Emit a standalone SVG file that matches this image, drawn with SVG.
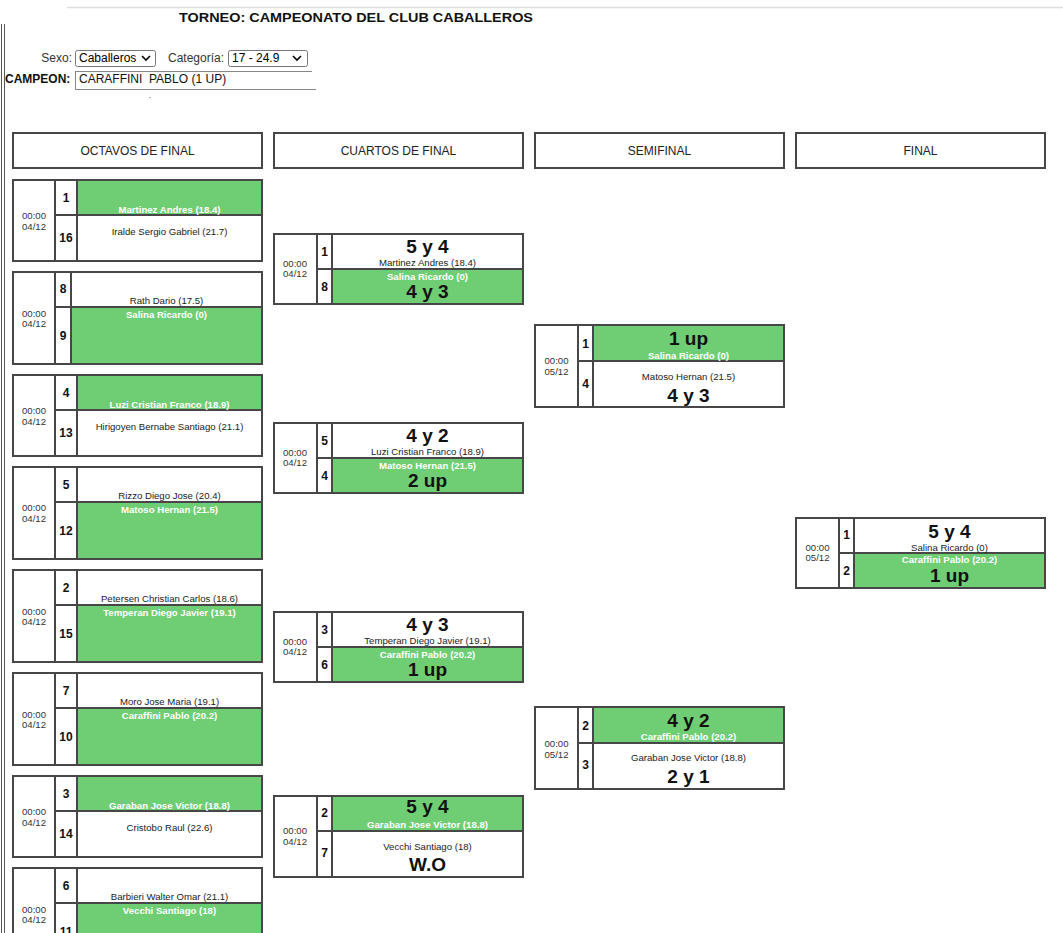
<svg xmlns="http://www.w3.org/2000/svg" width="1063" height="933" viewBox="0 0 1063 933">
<style>
text{font-family:"Liberation Sans",Arial,sans-serif}
.bx{fill:none;stroke:#474747;stroke-width:2}
.ln{stroke:#474747;stroke-width:2}
.win{fill:#6fcd73}
.tm{font-size:9.6px;fill:#333;text-anchor:middle}
.sd{font-size:12px;font-weight:bold;fill:#111;text-anchor:middle}
.nm{font-size:9.6px;fill:#222;text-anchor:middle}
.nw{font-size:9.6px;font-weight:bold;fill:#fff;text-anchor:middle}
.sc{font-size:19px;font-weight:bold;fill:#111;text-anchor:middle}
.hd{font-size:12px;fill:#222;text-anchor:middle}
.lb{font-size:12px;fill:#333}
.sel{fill:#fff;stroke:#767676;stroke-width:1}
</style>
<rect x="0" y="0" width="1063" height="933" fill="#fff"/>
<g id="page-top">
<line x1="67" y1="7.5" x2="1063" y2="7.5" stroke="#ddd" stroke-width="1.5"/>
<line x1="1.5" y1="24" x2="1.5" y2="933" stroke="#555" stroke-width="1"/>
<line x1="4.5" y1="24" x2="4.5" y2="933" stroke="#555" stroke-width="1"/>
<text x="356" y="22" font-size="13.5" font-weight="bold" fill="#111" text-anchor="middle" textLength="354" lengthAdjust="spacingAndGlyphs">TORNEO: CAMPEONATO DEL CLUB CABALLEROS</text>
</g>
<g id="filters">
<text class="lb" x="72" y="62" text-anchor="end">Sexo:</text>
<rect class="sel" x="75.5" y="50.5" width="80" height="16" rx="2"/>
<text x="79" y="62" font-size="12" fill="#000">Caballeros</text>
<path d="M142 56 L146 60 L150 56" fill="none" stroke="#000" stroke-width="1.6"/>
<text class="lb" x="168" y="62">Categoría:</text>
<rect class="sel" x="228.5" y="50.5" width="79" height="16" rx="2"/>
<text x="232" y="62" font-size="12" fill="#000">17 - 24.9</text>
<path d="M293 56 L297 60 L301 56" fill="none" stroke="#000" stroke-width="1.6"/>
</g>
<g id="campeon">
<text x="5" y="83" font-size="12" font-weight="bold" fill="#111">CAMPEON:</text>
<line x1="75" y1="71.5" x2="312" y2="71.5" stroke="#888" stroke-width="1"/>
<line x1="75.5" y1="71" x2="75.5" y2="89" stroke="#888" stroke-width="1"/>
<line x1="75" y1="89.5" x2="316" y2="89.5" stroke="#888" stroke-width="1"/>
<text x="79" y="83" font-size="12" fill="#111" xml:space="preserve">CARAFFINI  PABLO (1 UP)</text>
<rect x="149.5" y="97" width="1" height="1" fill="#666"/>
</g>
<g id="headers">
<rect class="bx" x="13" y="133" width="249" height="35"/>
<text class="hd" x="137.5" y="155">OCTAVOS DE FINAL</text>
<rect class="bx" x="274" y="133" width="249" height="35"/>
<text class="hd" x="398.5" y="155">CUARTOS DE FINAL</text>
<rect class="bx" x="535" y="133" width="249" height="35"/>
<text class="hd" x="659.5" y="155">SEMIFINAL</text>
<rect class="bx" x="796" y="133" width="249" height="35"/>
<text class="hd" x="920.5" y="155">FINAL</text>
</g>
<g id="connectors"/>
<!-- OCTAVOS -->
<g id="o1">
<rect class="win" x="77" y="180" width="185" height="35"/>
<rect class="bx" x="13" y="180" width="249" height="81"/>
<line class="ln" x1="55" y1="180" x2="55" y2="261"/><line class="ln" x1="77" y1="180" x2="77" y2="261"/><line class="ln" x1="55" y1="215" x2="262" y2="215"/>
<text class="tm" x="34" y="219">00:00</text><text class="tm" x="34" y="230">04/12</text>
<text class="sd" x="66" y="202">1</text><text class="sd" x="66" y="242">16</text>
<text class="nw" x="169.5" y="213">Martinez Andres (18.4)</text>
<text class="nm" x="169.5" y="235">Iralde Sergio Gabriel (21.7)</text>
</g>
<g id="o2">
<rect class="win" x="71" y="307" width="191" height="57"/>
<rect class="bx" x="13" y="272" width="249" height="92"/>
<line class="ln" x1="55" y1="272" x2="55" y2="364"/><line class="ln" x1="71" y1="272" x2="71" y2="364"/><line class="ln" x1="55" y1="307" x2="262" y2="307"/>
<text class="tm" x="34" y="317">00:00</text><text class="tm" x="34" y="327">04/12</text>
<text class="sd" x="63" y="293">8</text><text class="sd" x="63" y="340">9</text>
<text class="nm" x="166.5" y="304">Rath Dario (17.5)</text>
<text class="nw" x="166.5" y="318">Salina Ricardo (0)</text>
</g>
<g id="o3">
<rect class="win" x="77" y="375" width="185" height="35"/>
<rect class="bx" x="13" y="375" width="249" height="81"/>
<line class="ln" x1="55" y1="375" x2="55" y2="456"/><line class="ln" x1="77" y1="375" x2="77" y2="456"/><line class="ln" x1="55" y1="410" x2="262" y2="410"/>
<text class="tm" x="34" y="414">00:00</text><text class="tm" x="34" y="425">04/12</text>
<text class="sd" x="66" y="397">4</text><text class="sd" x="66" y="437">13</text>
<text class="nw" x="169.5" y="408">Luzi Cristian Franco (18.9)</text>
<text class="nm" x="169.5" y="430">Hirigoyen Bernabe Santiago (21.1)</text>
</g>
<g id="o4">
<rect class="win" x="77" y="502" width="185" height="57"/>
<rect class="bx" x="13" y="467" width="249" height="92"/>
<line class="ln" x1="55" y1="467" x2="55" y2="559"/><line class="ln" x1="77" y1="467" x2="77" y2="559"/><line class="ln" x1="55" y1="502" x2="262" y2="502"/>
<text class="tm" x="34" y="511">00:00</text><text class="tm" x="34" y="522">04/12</text>
<text class="sd" x="66" y="489">5</text><text class="sd" x="66" y="535">12</text>
<text class="nm" x="169.5" y="499">Rizzo Diego Jose (20.4)</text>
<text class="nw" x="169.5" y="513">Matoso Hernan (21.5)</text>
</g>
<g id="o5">
<rect class="win" x="77" y="605" width="185" height="57"/>
<rect class="bx" x="13" y="570" width="249" height="92"/>
<line class="ln" x1="55" y1="570" x2="55" y2="662"/><line class="ln" x1="77" y1="570" x2="77" y2="662"/><line class="ln" x1="55" y1="605" x2="262" y2="605"/>
<text class="tm" x="34" y="615">00:00</text><text class="tm" x="34" y="625">04/12</text>
<text class="sd" x="66" y="592">2</text><text class="sd" x="66" y="638">15</text>
<text class="nm" x="169.5" y="602">Petersen Christian Carlos (18.6)</text>
<text class="nw" x="169.5" y="616">Temperan Diego Javier (19.1)</text>
</g>
<g id="o6">
<rect class="win" x="77" y="708" width="185" height="57"/>
<rect class="bx" x="13" y="673" width="249" height="92"/>
<line class="ln" x1="55" y1="673" x2="55" y2="765"/><line class="ln" x1="77" y1="673" x2="77" y2="765"/><line class="ln" x1="55" y1="708" x2="262" y2="708"/>
<text class="tm" x="34" y="718">00:00</text><text class="tm" x="34" y="728">04/12</text>
<text class="sd" x="66" y="695">7</text><text class="sd" x="66" y="741">10</text>
<text class="nm" x="169.5" y="705">Moro Jose Maria (19.1)</text>
<text class="nw" x="169.5" y="719">Caraffini Pablo (20.2)</text>
</g>
<g id="o7">
<rect class="win" x="77" y="776" width="185" height="35"/>
<rect class="bx" x="13" y="776" width="249" height="81"/>
<line class="ln" x1="55" y1="776" x2="55" y2="857"/><line class="ln" x1="77" y1="776" x2="77" y2="857"/><line class="ln" x1="55" y1="811" x2="262" y2="811"/>
<text class="tm" x="34" y="815">00:00</text><text class="tm" x="34" y="826">04/12</text>
<text class="sd" x="66" y="798">3</text><text class="sd" x="66" y="838">14</text>
<text class="nw" x="169.5" y="809">Garaban Jose Victor (18.8)</text>
<text class="nm" x="169.5" y="831">Cristobo Raul (22.6)</text>
</g>
<g id="o8">
<rect class="win" x="77" y="903" width="185" height="57"/>
<rect class="bx" x="13" y="868" width="249" height="92"/>
<line class="ln" x1="55" y1="868" x2="55" y2="960"/><line class="ln" x1="77" y1="868" x2="77" y2="960"/><line class="ln" x1="55" y1="903" x2="262" y2="903"/>
<text class="tm" x="34" y="913">00:00</text><text class="tm" x="34" y="923">04/12</text>
<text class="sd" x="66" y="890">6</text><text class="sd" x="66" y="936">11</text>
<text class="nm" x="169.5" y="900">Barbieri Walter Omar (21.1)</text>
<text class="nw" x="169.5" y="914">Vecchi Santiago (18)</text>
</g>
<!-- CUARTOS -->
<g id="q1">
<rect class="win" x="332" y="269" width="191" height="35"/>
<rect class="bx" x="274" y="234" width="249" height="70"/>
<line class="ln" x1="317" y1="234" x2="317" y2="304"/><line class="ln" x1="332" y1="234" x2="332" y2="304"/><line class="ln" x1="317" y1="269" x2="523" y2="269"/>
<text class="tm" x="295" y="266.5">00:00</text><text class="tm" x="295" y="276.5">04/12</text>
<text class="sd" x="324.5" y="256">1</text><text class="sd" x="324.5" y="291">8</text>
<text class="sc" x="427.5" y="252.5">5 y 4</text>
<text class="nm" x="427.5" y="266">Martinez Andres (18.4)</text>
<text class="nw" x="427.5" y="279.5">Salina Ricardo (0)</text>
<text class="sc" x="427.5" y="297.5">4 y 3</text>
</g>
<g id="q2">
<rect class="win" x="332" y="458" width="191" height="35"/>
<rect class="bx" x="274" y="423" width="249" height="70"/>
<line class="ln" x1="317" y1="423" x2="317" y2="493"/><line class="ln" x1="332" y1="423" x2="332" y2="493"/><line class="ln" x1="317" y1="458" x2="523" y2="458"/>
<text class="tm" x="295" y="455.5">00:00</text><text class="tm" x="295" y="465.5">04/12</text>
<text class="sd" x="324.5" y="445">5</text><text class="sd" x="324.5" y="480">4</text>
<text class="sc" x="427.5" y="441.5">4 y 2</text>
<text class="nm" x="427.5" y="455">Luzi Cristian Franco (18.9)</text>
<text class="nw" x="427.5" y="468.5">Matoso Hernan (21.5)</text>
<text class="sc" x="427.5" y="486.5">2 up</text>
</g>
<g id="q3">
<rect class="win" x="332" y="647" width="191" height="35"/>
<rect class="bx" x="274" y="612" width="249" height="70"/>
<line class="ln" x1="317" y1="612" x2="317" y2="682"/><line class="ln" x1="332" y1="612" x2="332" y2="682"/><line class="ln" x1="317" y1="647" x2="523" y2="647"/>
<text class="tm" x="295" y="644.5">00:00</text><text class="tm" x="295" y="654.5">04/12</text>
<text class="sd" x="324.5" y="634">3</text><text class="sd" x="324.5" y="669">6</text>
<text class="sc" x="427.5" y="630.5">4 y 3</text>
<text class="nm" x="427.5" y="644">Temperan Diego Javier (19.1)</text>
<text class="nw" x="427.5" y="657.5">Caraffini Pablo (20.2)</text>
<text class="sc" x="427.5" y="675.5">1 up</text>
</g>
<g id="q4">
<rect class="win" x="332" y="796" width="191" height="35"/>
<rect class="bx" x="274" y="796" width="249" height="81"/>
<line class="ln" x1="317" y1="796" x2="317" y2="877"/><line class="ln" x1="332" y1="796" x2="332" y2="877"/><line class="ln" x1="317" y1="831" x2="523" y2="831"/>
<text class="tm" x="295" y="834">00:00</text><text class="tm" x="295" y="845">04/12</text>
<text class="sd" x="324.5" y="817">2</text><text class="sd" x="324.5" y="857">7</text>
<text class="sc" x="427.5" y="813">5 y 4</text>
<text class="nw" x="427.5" y="828">Garaban Jose Victor (18.8)</text>
<text class="nm" x="427.5" y="849.5">Vecchi Santiago (18)</text>
<text class="sc" x="427.5" y="871">W.O</text>
</g>
<!-- SEMIFINAL -->
<g id="s1">
<rect class="win" x="593" y="325" width="191" height="36"/>
<rect class="bx" x="535" y="325" width="249" height="82"/>
<line class="ln" x1="578" y1="325" x2="578" y2="407"/><line class="ln" x1="593" y1="325" x2="593" y2="407"/><line class="ln" x1="578" y1="361" x2="784" y2="361"/>
<text class="tm" x="556.5" y="364">00:00</text><text class="tm" x="556.5" y="375">05/12</text>
<text class="sd" x="585.5" y="348">1</text><text class="sd" x="585.5" y="388">4</text>
<text class="sc" x="688.5" y="344.5">1 up</text>
<text class="nw" x="688.5" y="358.5">Salina Ricardo (0)</text>
<text class="nm" x="688.5" y="380">Matoso Hernan (21.5)</text>
<text class="sc" x="688.5" y="401.5">4 y 3</text>
</g>
<g id="s2">
<rect class="win" x="593" y="707" width="191" height="36"/>
<rect class="bx" x="535" y="707" width="249" height="82"/>
<line class="ln" x1="578" y1="707" x2="578" y2="789"/><line class="ln" x1="593" y1="707" x2="593" y2="789"/><line class="ln" x1="578" y1="743" x2="784" y2="743"/>
<text class="tm" x="556.5" y="747">00:00</text><text class="tm" x="556.5" y="758">05/12</text>
<text class="sd" x="585.5" y="730">2</text><text class="sd" x="585.5" y="769">3</text>
<text class="sc" x="688.5" y="727">4 y 2</text>
<text class="nw" x="688.5" y="740">Caraffini Pablo (20.2)</text>
<text class="nm" x="688.5" y="760.5">Garaban Jose Victor (18.8)</text>
<text class="sc" x="688.5" y="782.5">2 y 1</text>
</g>
<!-- FINAL -->
<g id="f1">
<rect class="win" x="854" y="553" width="191" height="35"/>
<rect class="bx" x="796" y="518" width="249" height="70"/>
<line class="ln" x1="839" y1="518" x2="839" y2="588"/><line class="ln" x1="854" y1="518" x2="854" y2="588"/><line class="ln" x1="839" y1="553" x2="1045" y2="553"/>
<text class="tm" x="817.5" y="550.7">00:00</text><text class="tm" x="817.5" y="561.4">05/12</text>
<text class="sd" x="846.5" y="539.3">1</text><text class="sd" x="846.5" y="575.3">2</text>
<text class="sc" x="949.5" y="537.8">5 y 4</text>
<text class="nm" x="949.5" y="551">Salina Ricardo (0)</text>
<text class="nw" x="949.5" y="563.4">Caraffini Pablo (20.2)</text>
<text class="sc" x="949.5" y="581.8">1 up</text>
</g>
</svg>
